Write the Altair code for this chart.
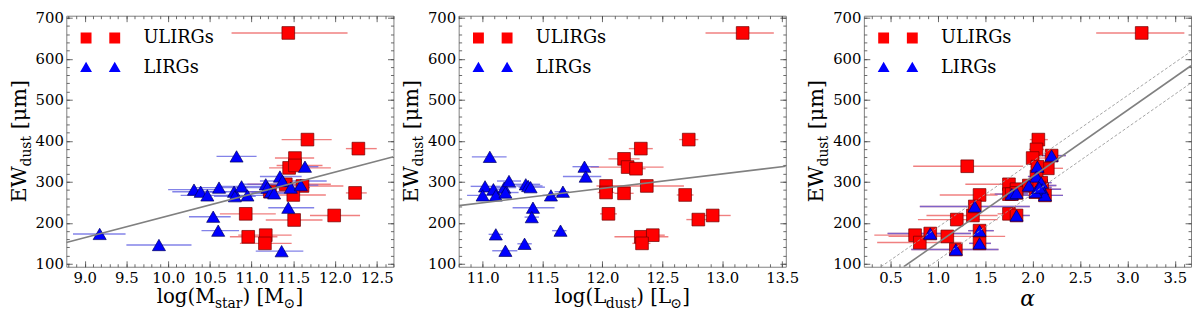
import altair as alt
import pandas as pd

FONT = "DejaVu Serif"
W, H = 331, 254
Y_DOMAIN = [93, 705]
Y_MAJOR = [100, 200, 300, 400, 500, 600, 700]
Y_MINOR = [100 + 20 * i for i in range(31)]
GROUPS = ["ULIRGs", "LIRGs"]

# ---------------- Panel 1: stellar mass ----------------
M_U_X = [11.44, 11.67, 12.28, 11.52, 11.45, 11.52, 11.41, 11.61, 12.24, 11.50, 11.22, 10.93, 11.99, 11.51, 10.96, 11.17, 11.16]
M_U_LO = [10.76, 11.36, 12.13, 11.28, 11.21, 11.30, 10.95, 11.33, 12.13, 11.13, 10.95, 10.62, 11.70, 11.17, 10.74, 10.84, 10.86]
M_U_HI = [12.15, 11.96, 12.50, 11.75, 11.95, 11.85, 11.95, 12.10, 12.38, 11.89, 11.45, 11.29, 12.30, 11.85, 11.31, 11.48, 11.48]
M_U_EW = [663, 403, 381, 358, 334, 340, 294, 290, 273, 268, 276, 222, 218, 207, 166, 170, 150]

M_L_X = [9.18, 9.89, 10.82, 10.31, 10.39, 10.47, 10.61, 10.54, 10.60, 10.79, 10.80, 10.88, 10.95, 11.17, 11.19, 11.23, 11.27, 11.34, 11.37, 11.44, 11.36, 11.47, 11.59, 11.64]
M_L_LO = [8.86, 9.50, 10.58, 10.00, 10.05, 10.15, 10.30, 10.25, 10.40, 10.50, 10.55, 10.60, 10.70, 10.85, 10.90, 11.00, 11.00, 11.10, 11.10, 11.20, 11.05, 11.25, 11.40, 11.45]
M_L_HI = [9.49, 10.28, 11.06, 10.62, 10.70, 10.80, 10.95, 10.75, 10.85, 11.10, 11.05, 11.20, 11.25, 11.50, 11.45, 11.50, 11.55, 11.60, 11.90, 11.75, 11.62, 11.70, 11.80, 11.80]
M_L_EW = [173, 146, 362, 281, 276, 267, 286, 215, 181, 276, 265, 289, 267, 294, 286, 275, 272, 313, 302, 237, 131, 286, 292, 337]

M_FIT_X = [8.78, 12.70]
M_FIT_Y = [152, 361]

# ---------------- Panel 2: dust luminosity ----------------
L_U_X = [13.17, 12.72, 12.32, 12.18, 12.21, 12.28, 12.03, 12.03, 12.37, 12.18, 12.69, 12.05, 12.92, 12.80, 12.32, 12.42, 12.33]
L_U_LO = [12.86, 12.64, 12.22, 12.05, 11.90, 12.19, 11.95, 11.96, 12.08, 12.10, 12.62, 11.98, 12.83, 12.70, 12.10, 12.35, 12.25]
L_U_HI = [13.43, 12.80, 12.42, 12.31, 12.51, 12.36, 12.16, 12.10, 12.68, 12.26, 12.76, 12.12, 13.07, 12.93, 12.55, 12.52, 12.40]
L_U_EW = [663, 403, 381, 356, 336, 332, 290, 274, 290, 272, 268, 222, 218, 208, 166, 170, 150]

L_L_X = [11.06, 11.85, 11.86, 11.02, 11.00, 11.09, 11.11, 11.18, 11.19, 11.22, 11.36, 11.38, 11.40, 11.57, 11.67, 11.42, 11.41, 11.11, 11.19, 11.35, 11.65]
L_L_LO = [10.91, 11.75, 11.67, 10.90, 10.87, 10.98, 11.00, 11.08, 11.10, 11.12, 11.25, 11.28, 11.30, 11.50, 11.60, 11.25, 11.35, 11.05, 11.08, 11.29, 11.58]
L_L_HI = [11.20, 11.97, 11.99, 11.15, 11.15, 11.20, 11.22, 11.28, 11.30, 11.32, 11.48, 11.50, 11.52, 11.64, 11.72, 11.60, 11.47, 11.17, 11.29, 11.41, 11.70]
L_L_EW = [361, 337, 313, 289, 267, 282, 267, 286, 274, 302, 294, 290, 287, 267, 276, 237, 214, 172, 132, 149, 181]

L_FIT_X = [10.80, 13.53]
L_FIT_Y = [242, 338]

# ---------------- Panel 3: alpha ----------------
A_U_X = [3.15, 2.06, 2.04, 2.00, 1.31, 2.16, 1.75, 1.83, 1.75, 1.44, 1.37, 1.20, 1.75, 0.76, 0.81, 1.10, 2.09]
A_U_LO = [2.67, 1.97, 1.96, 1.94, 0.74, 2.03, 1.29, 1.75, 1.55, 1.02, 0.88, 0.79, 1.63, 0.33, 0.36, 0.48, 2.00]
A_U_HI = [3.60, 2.16, 2.12, 2.13, 1.90, 2.32, 1.92, 1.92, 1.95, 1.63, 1.63, 1.63, 1.84, 1.07, 1.25, 1.71, 2.20]
A_U_EW = [663, 403, 379, 358, 338, 333, 294, 282, 270, 268, 218, 208, 222, 170, 152, 167, 290]

A_L_X = [2.20, 2.05, 2.04, 1.96, 2.09, 2.10, 2.13, 2.03, 1.78, 1.83, 1.39, 1.83, 1.44, 1.44, 1.19, 0.92, 2.07]
A_L_LO = [2.10, 1.98, 1.95, 1.70, 1.98, 1.95, 1.90, 1.90, 1.60, 1.70, 0.81, 1.73, 1.32, 1.33, 0.72, 0.47, 1.95]
A_L_HI = [2.35, 2.15, 2.12, 2.25, 2.20, 2.30, 2.32, 2.15, 1.95, 1.95, 1.97, 1.97, 1.59, 1.56, 1.64, 1.35, 2.20]
A_L_EW = [364, 337, 313, 291, 298, 282, 267, 275, 270, 273, 240, 218, 181, 150, 135, 174, 286]

A_FIT_X = [0.64, 3.67]
A_FIT_Y = [93, 583]
A_UP_X = [0.40, 3.67]
A_UP_Y = [93, 618]
A_LOW_X = [0.90, 3.67]
A_LOW_Y = [93, 541]

# ---------------- styling ----------------
RED = "#ff0000"
BLUE = "#0000ff"
RED_ERR = "#f08080"
BLUE_ERR = "#5a5ae0"
TICK_COLOR = "#444444"

ADV = {"E": 0.717, "W": 1.028, "d": 0.642, "u": 0.644, "s": 0.513, "t": 0.402, " ": 0.318,
       "[": 0.390, "]": 0.390, "μ": 0.655, "m": 0.949, "l": 0.320, "o": 0.602, "g": 0.640,
       "(": 0.390, ")": 0.390, "M": 0.995, "a": 0.596, "r": 0.478, "L": 0.637, "⊙": 0.838,
       "α": 0.659}


def text_width(s, size):
    return sum(ADV.get(c, 0.6) for c in s) * size


SQ2 = "M-2,-0.55h1.1v1.1h-1.1Z M0.9,-0.55h1.1v1.1h-1.1Z"
TRI2 = "M-2.05,0.45L-1.45,-0.6L-0.85,0.45Z M0.85,0.45L1.45,-0.6L2.05,0.45Z"


def pts(x, lo, hi, ew):
    return pd.DataFrame({"x": x, "lo": lo, "hi": hi, "ew": ew})


def line_df(x, y):
    return pd.DataFrame({"x": x, "y": y})


def txt(s, x, y, size, angle=0, italic=False):
    kw = dict(font=FONT, fontSize=size, align="left", baseline="alphabetic", color="black")
    if angle:
        kw["angle"] = angle
    if italic:
        kw["fontStyle"] = "italic"
    return alt.Chart(pd.DataFrame({"t": [s]})).mark_text(**kw).encode(
        text="t:N", x=alt.value(x), y=alt.value(y))


def split_lead(s, sz):
    # SVG collapses leading spaces, so advance the cursor instead
    lead = len(s) - len(s.lstrip(" "))
    return s.lstrip(" "), lead * ADV[" "] * sz


def xtitle(parts, base):
    total = sum(text_width(s, sz) for s, sz, _, _ in parts)
    cur = W / 2 - total / 2
    layers = []
    for s, sz, shift, it in parts:
        body, gap = split_lead(s, sz)
        cur += gap
        layers.append(txt(body, cur, base + shift, sz, italic=it))
        cur += text_width(body, sz)
    return layers


def ytitle():
    parts = [("EW", 21, 0), ("dust", 14, 5), (" [μm]", 21, 0)]
    total = sum(text_width(s, sz) for s, sz, _ in parts)
    cur = H / 2 + total / 2
    layers = []
    for s, sz, shift in parts:
        body, gap = split_lead(s, sz)
        cur -= gap
        layers.append(txt(body, -41 + shift, cur, sz, angle=270))
        cur -= text_width(body, sz)
    return layers


def panel(u, l, xdom, xmajor, xminor, fits, xparts, xbase, red_under_blue=False):
    xs = alt.Scale(domain=xdom, nice=False, zero=False)
    ys = alt.Scale(domain=Y_DOMAIN, nice=False, zero=False)
    main_x = alt.Axis(values=xmajor, format=".1f", labelFont=FONT, labelFontSize=15,
                      labelColor="black", ticks=False, domain=False, grid=False,
                      title=None, labelPadding=4, labelFlush=False)
    main_y = alt.Axis(values=Y_MAJOR, format="d", labelFont=FONT, labelFontSize=15,
                      labelColor="black", ticks=False, domain=False, grid=False,
                      title=None, labelPadding=3, labelFlush=False)
    nox = alt.X("lo:Q", scale=xs, axis=None)

    layers = []
    red_err_df = pd.concat([u, l]) if red_under_blue else u
    layers.append(alt.Chart(red_err_df).mark_rule(color=RED_ERR, strokeWidth=1.4).encode(
        x=alt.X("lo:Q", scale=xs, axis=main_x), x2="hi:Q",
        y=alt.Y("ew:Q", scale=ys, axis=main_y)))
    layers.append(alt.Chart(l).mark_rule(color=BLUE_ERR, strokeWidth=1.4, opacity=0.75).encode(
        x=nox, x2="hi:Q", y=alt.Y("ew:Q", scale=ys, axis=None)))
    sq_df = pd.concat([u, l]) if red_under_blue else u
    layers.append(alt.Chart(sq_df).mark_point(shape="square", filled=True, size=165, fill=RED,
                                              stroke="#700000", strokeWidth=0.7, opacity=1).encode(
        x=alt.X("x:Q", scale=xs, axis=None), y=alt.Y("ew:Q", scale=ys, axis=None)))
    layers.append(alt.Chart(l).mark_point(shape="triangle-up", filled=True, size=175, fill=BLUE,
                                          stroke="#000060", strokeWidth=0.7, opacity=1).encode(
        x=alt.X("x:Q", scale=xs, axis=None), y=alt.Y("ew:Q", scale=ys, axis=None)))
    for df, dash, width, color in fits:
        mk = dict(clip=True, color=color, strokeWidth=width)
        if dash:
            mk["strokeDash"] = dash
        layers.append(alt.Chart(df).mark_line(**mk).encode(
            x=alt.X("x:Q", scale=xs, axis=None), y=alt.Y("y:Q", scale=ys, axis=None)))

    # inward ticks on all four sides (major + minor)
    tick_df = pd.DataFrame({"x": [xdom[0]], "y": [Y_DOMAIN[0]]})
    for xo, yo in (("bottom", "left"), ("top", "right")):
        for vals_x, vals_y, size in ((xmajor, Y_MAJOR, 6), (xminor, Y_MINOR, 3)):
            ax = alt.Axis(orient=xo, values=vals_x, labels=False, domain=False, grid=False,
                          ticks=True, tickSize=size, offset=-size, tickColor=TICK_COLOR,
                          tickWidth=0.8, title=None)
            ay = alt.Axis(orient=yo, values=vals_y, labels=False, domain=False, grid=False,
                          ticks=True, tickSize=size, offset=-size, tickColor=TICK_COLOR,
                          tickWidth=0.8, title=None)
            layers.append(alt.Chart(tick_df).mark_point(opacity=0).encode(
                x=alt.X("x:Q", scale=xs, axis=ax), y=alt.Y("y:Q", scale=ys, axis=ay)))

    # legend (two markers per entry)
    leg = dict(title=None, orient="none", legendX=24, legendY=12, padding=0, symbolSize=400,
               labelFont=FONT, labelFontSize=18, labelColor="black", labelOffset=33,
               rowPadding=10, symbolStrokeColor="#333333", symbolStrokeWidth=0.6,
               symbolOpacity=1, labelBaseline="middle")
    leg_df = pd.DataFrame({"grp": GROUPS})
    layers.append(alt.Chart(leg_df).transform_filter("false").mark_point(filled=True, opacity=1).encode(
        color=alt.Color("grp:N", scale=alt.Scale(domain=GROUPS, range=[RED, BLUE]),
                        legend=alt.Legend(**leg)),
        shape=alt.Shape("grp:N", scale=alt.Scale(domain=GROUPS, range=[SQ2, TRI2]),
                        legend=alt.Legend(**leg))))

    layers += xtitle(xparts, xbase)
    layers += ytitle()
    return alt.layer(*layers).resolve_axis(x="independent", y="independent").properties(
        width=W, height=H)


def minor(lo, hi):
    n = int(round((hi - lo) * 10))
    return [round(lo + 0.1 * i, 1) for i in range(n + 1)]


GRAY = "#808080"
p1 = panel(pts(M_U_X, M_U_LO, M_U_HI, M_U_EW), pts(M_L_X, M_L_LO, M_L_HI, M_L_EW),
           [8.78, 12.70], [9.0, 9.5, 10.0, 10.5, 11.0, 11.5, 12.0, 12.5], minor(8.8, 12.7),
           [(line_df(M_FIT_X, M_FIT_Y), None, 1.6, GRAY)],
           [("log(M", 20, 0, False), ("star", 14, 5, False), (") [M", 20, 0, False),
            ("⊙", 14, 5, False), ("]", 20, 0, False)], H + 37)
p2 = panel(pts(L_U_X, L_U_LO, L_U_HI, L_U_EW), pts(L_L_X, L_L_LO, L_L_HI, L_L_EW),
           [10.80, 13.53], [11.0, 11.5, 12.0, 12.5, 13.0, 13.5], minor(10.8, 13.5),
           [(line_df(L_FIT_X, L_FIT_Y), None, 1.6, GRAY)],
           [("log(L", 20, 0, False), ("dust", 14, 5, False), (") [L", 20, 0, False),
            ("⊙", 14, 5, False), ("]", 20, 0, False)], H + 37)
p3 = panel(pts(A_U_X, A_U_LO, A_U_HI, A_U_EW), pts(A_L_X, A_L_LO, A_L_HI, A_L_EW),
           [0.22, 3.67], [0.5, 1.0, 1.5, 2.0, 2.5, 3.0, 3.5], minor(0.3, 3.6),
           [(line_df(A_FIT_X, A_FIT_Y), None, 1.6, GRAY),
            (line_df(A_UP_X, A_UP_Y), [3, 2], 0.9, "#999999"),
            (line_df(A_LOW_X, A_LOW_Y), [3, 2], 0.9, "#999999")],
           [("α", 22, 0, True)], H + 40, red_under_blue=True)

chart = alt.hconcat(p1, p2, p3, spacing=6).resolve_scale(
    x="independent", y="independent", color="independent", shape="independent"
).resolve_legend(color="independent", shape="independent").configure_view(
    stroke="#7f7f7f", strokeWidth=1
).properties(padding=0)

chart.save("out.html", embed_options={"renderer": "svg", "actions": False})
